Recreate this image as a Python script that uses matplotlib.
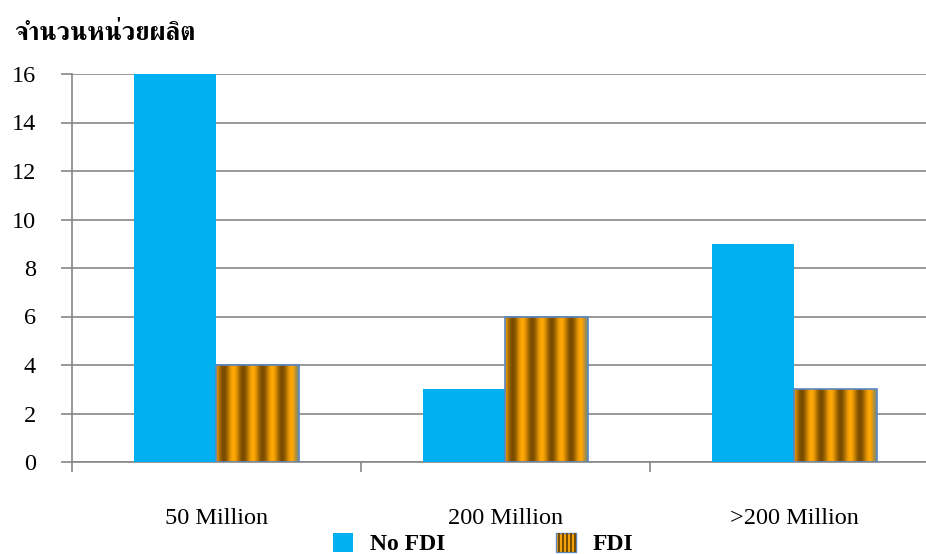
import numpy as np
import matplotlib
matplotlib.use("Agg")
import matplotlib.pyplot as plt
from matplotlib.patches import Rectangle
from matplotlib.legend_handler import HandlerBase
from matplotlib.colors import to_rgb

# Data
categories = ["50 Million", "200 Million", ">200 Million"]
no_fdi = [16, 3, 9]
fdi = [4, 6, 3]
series_names = ["No FDI", "FDI"]
y_title = "จำนวนหน่วยผลิต"
y_ticks = [0, 2, 4, 6, 8, 10, 12, 14, 16]

BLUE = "#00B0F0"
LIGHT = np.array(to_rgb("#FFA806"))
DARK = np.array(to_rgb("#7A4C00"))
EDGE_TINT = np.array(to_rgb("#7FA6A0"))
BAR_EDGE = "#5A86C0"
GRID = "#878787"
SERIF = ["Liberation Serif", "DejaVu Serif"]

plt.rcParams["font.family"] = SERIF

fig = plt.figure(figsize=(9.26, 5.54), dpi=100)
ax = fig.add_axes([72 / 926, 92 / 554, 867 / 926, 388 / 554])

x = np.arange(len(categories))
w = 0.285


def stripe_texture(ncols=400):
    """Vertical metallic stripes, tinted toward blue-green at the right edge."""
    t = np.linspace(0, 1, ncols)
    k = 0.5 + 0.5 * np.cos(2 * np.pi * (t - 0.21) / 0.235)
    rgb = DARK[None, :] + (LIGHT - DARK)[None, :] * k[:, None]
    edge = np.clip((t - 0.93) / 0.07, 0, 1) * 0.75
    rgb = rgb * (1 - edge[:, None]) + EDGE_TINT[None, :] * edge[:, None]
    return rgb[None, :, :]


ax.bar(x - w / 2, no_fdi, width=w, color=BLUE, linewidth=0, zorder=3)
fdi_bars = ax.bar(x + w / 2, fdi, width=w, facecolor="none",
                  edgecolor=BAR_EDGE, linewidth=1.2, zorder=4)
tex = stripe_texture()
for rect in fdi_bars:
    x0, y0 = rect.get_x(), rect.get_y()
    im = ax.imshow(tex, extent=(x0, x0 + rect.get_width(), y0, y0 + rect.get_height()),
                   aspect="auto", interpolation="bilinear", zorder=3.5)
    im.set_clip_path(rect)

ax.set_xlim(-0.5, 2.5)
ax.set_ylim(0, 16)

# Axes styling
for side in ("top", "right"):
    ax.spines[side].set_visible(False)
for side in ("left", "bottom"):
    ax.spines[side].set_color(GRID)
    ax.spines[side].set_linewidth(1.2)
ax.set_yticks(y_ticks)
ax.yaxis.grid(True, color=GRID, linewidth=1.2, zorder=0)
ax.set_axisbelow(True)
ax.tick_params(axis="y", direction="out", length=8, width=1.2, color=GRID,
               labelsize=17.5, pad=18)
ax.set_xticks(x)
ax.set_xticklabels(categories)
ax.set_xticks([-0.5, 0.5, 1.5, 2.5], minor=True)
ax.tick_params(axis="x", which="major", length=0, labelsize=17.5, pad=33)
ax.tick_params(axis="x", which="minor", direction="out", length=7.5, width=1.2, color=GRID)

fig.text(14 / 926, 1 - 33 / 554, y_title, family=["FreeSerif", "DejaVu Sans"],
         fontweight="bold", fontsize=18.5, ha="left", va="center")


class StripeHandler(HandlerBase):
    def create_artists(self, legend, orig_handle, xdescent, ydescent, width, height,
                       fontsize, trans):
        arts = [Rectangle((-xdescent, -ydescent), width, height, facecolor="#F2A20C",
                          edgecolor=BAR_EDGE, linewidth=1.0, transform=trans)]
        n = 5
        for i in range(n):
            sx = -xdescent + width * (i + 0.55) / n
            arts.append(Rectangle((sx, -ydescent), width * 0.09, height,
                                  facecolor="#7A4C00", edgecolor="none", transform=trans))
        return arts


h_blue = Rectangle((0, 0), 1, 1, facecolor=BLUE, edgecolor="none")
h_fdi = Rectangle((0, 0), 1, 1)
fig.legend([h_blue, h_fdi], series_names, loc="center",
           bbox_to_anchor=(483 / 926, 1 - 544 / 554), ncol=2, frameon=False,
           prop={"family": SERIF, "weight": "bold", "size": 17},
           handlelength=0.85, handleheight=0.85, handletextpad=0.7,
           columnspacing=4.7, handler_map={h_fdi: StripeHandler()})

fig.savefig("out.png", dpi=100)
